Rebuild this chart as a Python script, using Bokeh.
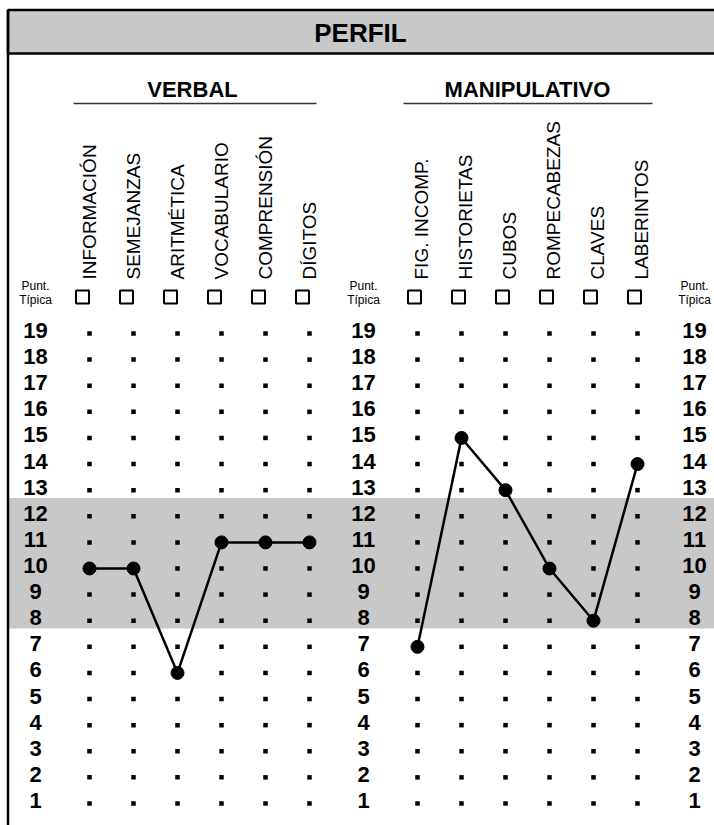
import math
from bokeh.plotting import figure
from bokeh.models import Range1d
from bokeh.embed import file_html
from bokeh.resources import INLINE
from bokeh.core.properties import value

# ---------------- data ----------------
title_text = "PERFIL"
group_names = ["VERBAL", "MANIPULATIVO"]
verbal_tests = ["INFORMACIÓN", "SEMEJANZAS", "ARITMÉTICA", "VOCABULARIO", "COMPRENSIÓN", "DÍGITOS"]
verbal_scores = [10, 10, 6, 11, 11, 11]
manip_tests = ["FIG. INCOMP.", "HISTORIETAS", "CUBOS", "ROMPECABEZAS", "CLAVES", "LABERINTOS"]
manip_scores = [7, 15, 13, 10, 8, 14]
score_ticks = list(range(1, 20))
axis_caption = ["Punt.", "Típica"]
normal_band = [7.7, 12.7]

# ---------------- layout ----------------
W, H = 714, 825
ROW19_PX = 333.0      # page-pixel position of score 19
PX_PER_UNIT = 26.11

def ypx(py):
    """vertical page-pixel position -> score units"""
    return 19 - (py - ROW19_PX) / PX_PER_UNIT

FONT = "Liberation Sans"
GREY = "#c8c8c8"

p = figure(width=W, height=H, output_backend="svg", toolbar_location=None,
           x_range=Range1d(0, W), y_range=Range1d(ypx(H), ypx(0)),
           min_border=0, outline_line_color=None)
p.axis.visible = False
p.grid.visible = False
p.background_fill_color = "white"
p.border_fill_color = "white"

verbal_x = [89 + 44 * i for i in range(len(verbal_tests))]
manip_x = [417 + 44 * i for i in range(len(manip_tests))]
label_cols = [35, 363, 694]

# normal band
p.quad(left=8, right=730, bottom=normal_band[0], top=normal_band[1],
       fill_color=GREY, line_color=None)

# header box
p.quad(left=7.5, right=730, top=ypx(9.5), bottom=ypx(53),
       fill_color=GREY, line_color="black", line_width=2.5)
p.segment(x0=[7.5], y0=[ypx(9.5)], x1=[7.5], y1=[ypx(840)],
          line_color="black", line_width=2.5)

p.text(x=[360], y=[ypx(32.5)], text=[title_text], text_font=value(FONT),
       text_font_style="bold", text_font_size="26px", text_align="center",
       text_baseline="middle", text_color="black")

# group titles + underlines
p.text(x=[192, 527], y=[ypx(88.5)] * 2, text=group_names, text_font=value(FONT),
       text_font_style="bold", text_font_size="22px", text_align="center",
       text_baseline="middle", text_color="black")
p.segment(x0=[73, 403], y0=[ypx(103)] * 2, x1=[316, 652], y1=[ypx(103)] * 2,
          line_color="#333333", line_width=1.5)

# column headers (rotated) and checkboxes
for xs, tests, dx in [(verbal_x, verbal_tests, -7), (manip_x, manip_tests, -3)]:
    bx = [x + dx for x in xs]
    p.scatter(x=bx, y=[ypx(296.5)] * len(bx), marker="square", size=13,
              fill_color=None, line_color="black", line_width=2)
    p.text(x=[b + 7 for b in bx], y=[ypx(279)] * len(bx), text=tests, angle=math.pi / 2,
           text_font=value(FONT), text_font_size="19px", text_align="left",
           text_baseline="alphabetic", text_color="black")

# "Punt. Típica" captions
for cx in label_cols:
    p.text(x=[cx, cx], y=[ypx(285), ypx(299)], text=axis_caption, text_font=value(FONT),
           text_font_size="12px", text_align="center", text_baseline="middle",
           text_color="black")

# score labels
dy = 3.0 / PX_PER_UNIT
for cx in label_cols:
    p.text(x=[cx] * len(score_ticks), y=[s + dy for s in score_ticks],
           text=[str(s) for s in score_ticks], text_font=value(FONT),
           text_font_style="bold", text_font_size="22px", text_align="center",
           text_baseline="middle", text_color="black")

# dot grid
all_x = verbal_x + manip_x
gx = [x for x in all_x for s in score_ticks]
gy = [s for x in all_x for s in score_ticks]
p.scatter(x=gx, y=gy, marker="square", size=4.5, fill_color="black", line_color=None)

# profile lines
for xs, scores in [(verbal_x, verbal_scores), (manip_x, manip_scores)]:
    p.line(x=xs, y=scores, line_color="black", line_width=2.5)
    p.scatter(x=xs, y=scores, marker="circle", size=13, fill_color="black", line_color="black")

open("out.html", "w").write(file_html(p, INLINE))
